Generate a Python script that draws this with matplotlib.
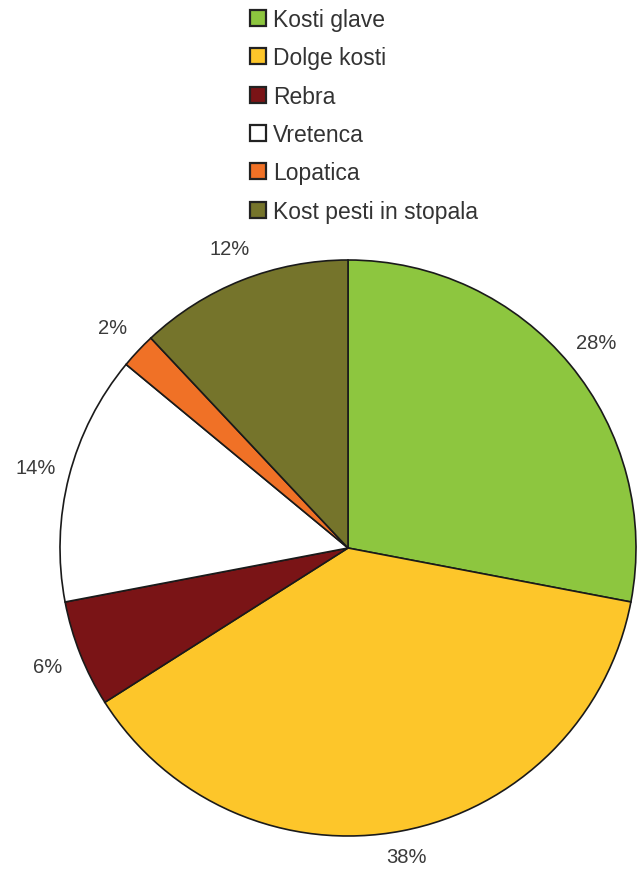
import matplotlib.pyplot as plt
from matplotlib.patches import Patch

labels = ['Kosti glave', 'Dolge kosti', 'Rebra', 'Vretenca', 'Lopatica', 'Kost pesti in stopala']
values = [28, 38, 6, 14, 2, 12]
colors = ['#8DC63F', '#FDC62A', '#7A1416', '#FFFFFF', '#F07126', '#75742B']

plt.rcParams['font.family'] = ['Liberation Sans', 'DejaVu Sans']

fig = plt.figure(figsize=(6.42, 8.7), dpi=100)
ax = fig.add_axes([60/642, 33/870, 576/642, 576/870])

wedges, texts, autotexts = ax.pie(values, colors=colors, startangle=90, counterclock=False,
                                  autopct='%d%%', pctdistance=1.12, radius=1,
                                  wedgeprops=dict(edgecolor='#1a1a1a', linewidth=1.2),
                                  textprops=dict(color='#3a3a3a', fontsize=14.5))
# bottom label sits a bit closer to the rim
x, y = autotexts[1].get_position()
autotexts[1].set_position((x * 1.09 / 1.12, y * 1.09 / 1.12))

ax.set_xlim(-1, 1)
ax.set_ylim(-1, 1)
ax.set_aspect('equal')

handles = [Patch(facecolor=c, edgecolor='#222222', linewidth=1.6) for c in colors]
fig.legend(handles, labels, loc='upper left', bbox_to_anchor=(242/642, 1 - 1/870),
           frameon=False, fontsize=16.5, handlelength=0.7, handleheight=0.7,
           handletextpad=0.3, labelspacing=0.67, borderaxespad=0, borderpad=0.35,
           labelcolor='#333333')

fig.savefig('out.png', dpi=100)
